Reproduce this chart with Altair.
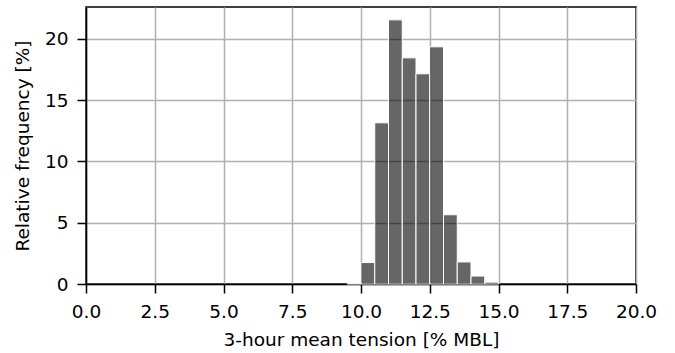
import altair as alt
import pandas as pd

bin_start = [9.5, 10.0, 10.5, 11.0, 11.5, 12.0, 12.5, 13.0, 13.5, 14.0, 14.5]
freq = [0.05, 1.75, 13.15, 21.55, 18.45, 17.15, 19.35, 5.65, 1.8, 0.65, 0.15]
bin_width = 0.5

df = pd.DataFrame({
    "start": bin_start,
    "end": [b + bin_width for b in bin_start],
    "freq": freq,
})

x_ticks = [0.0, 2.5, 5.0, 7.5, 10.0, 12.5, 15.0, 17.5, 20.0]
y_ticks = [0, 5, 10, 15, 20]

font = "DejaVu Sans"
fs = 18.5

common_axis = dict(
    grid=True, gridColor="#b0b0b0", gridWidth=1.5,
    domainColor="black", domainWidth=1.5,
    tickColor="black", tickSize=9, tickWidth=1.5,
    labelFont=font, labelFontSize=fs, labelColor="black",
    labelPadding=9, labelFlush=False, labelOverlap=False,
    titleFont=font, titleFontSize=fs, titleColor="black",
    titleFontWeight="normal",
)

bars = alt.Chart(df).mark_rect(
    fill="black", fillOpacity=0.6, stroke="white", strokeWidth=1
).encode(
    x=alt.X("start:Q",
            scale=alt.Scale(domain=[0, 20], nice=False, zero=False),
            axis=alt.Axis(values=x_ticks, format=".1f",
                          title="3-hour mean tension [% MBL]",
                          titlePadding=10, **common_axis)),
    x2="end:Q",
    y=alt.Y("freq:Q",
            scale=alt.Scale(domain=[0, 22.6], nice=False),
            axis=alt.Axis(values=y_ticks, format="d",
                          title="Relative frequency [%]",
                          titlePadding=12, **common_axis)),
    y2=alt.datum(0),
)

chart = bars.properties(
    width=550, height=277,
    background="white",
    autosize=alt.AutoSizeParams(type="none"),
    padding={"left": 86, "top": 7, "right": 39, "bottom": 69},
).configure_view(
    stroke="black", strokeWidth=1.5
)

chart.save("out.html", embed_options={"renderer": "svg", "actions": False})
